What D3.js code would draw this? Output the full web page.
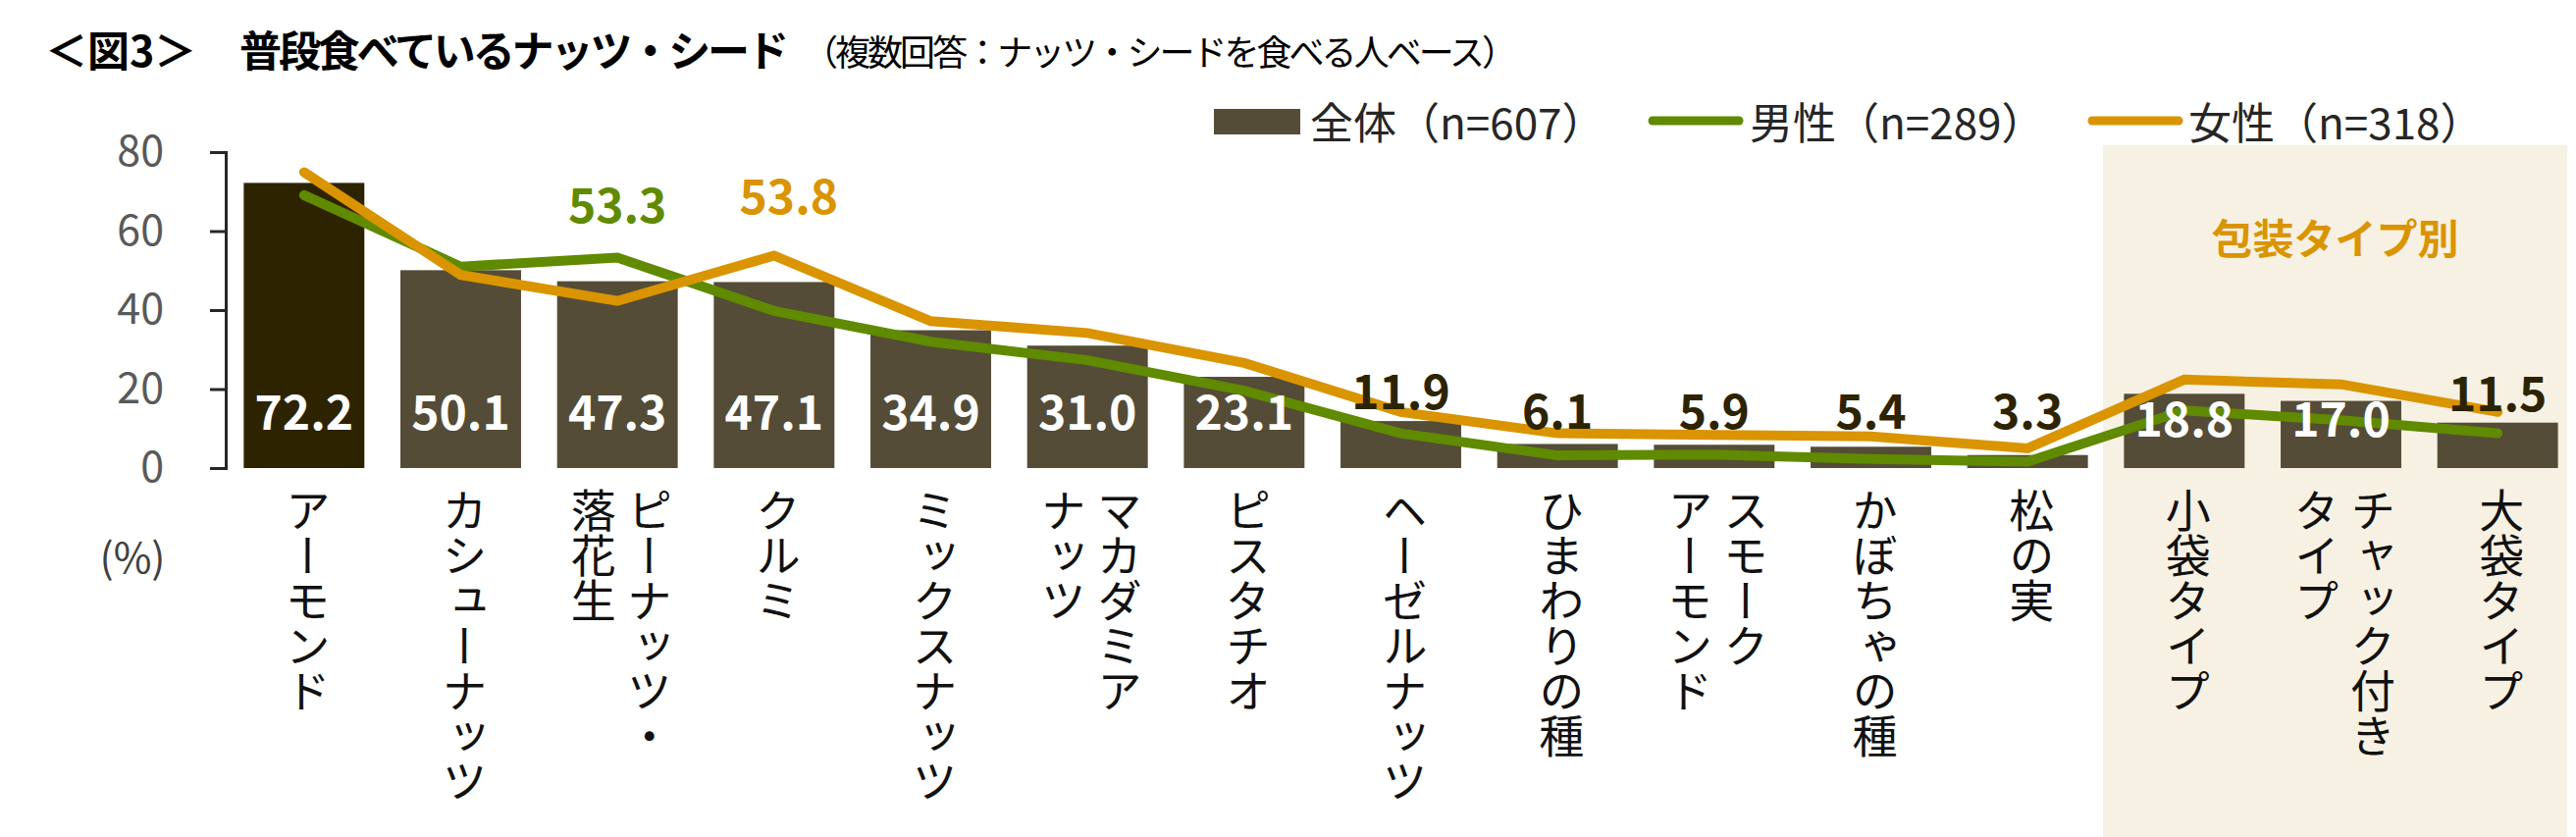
<!DOCTYPE html>
<html>
<head>
<meta charset="utf-8">
<script src="https://cdn.jsdelivr.net/npm/d3@7"></script>
<style>
  html, body { margin: 0; padding: 0; background: #fff; }
  svg text { font-family: "Noto Sans CJK JP", "Noto Sans", sans-serif; }
</style>
</head>
<body>
<div id="chart"></div>
<script>
// chart data
var categories = ["アーモンド", "カシューナッツ", "ピーナッツ・\n落花生", "クルミ", "ミックスナッツ",
  "マカダミア\nナッツ", "ピスタチオ", "ヘーゼルナッツ", "ひまわりの種", "スモーク\nアーモンド",
  "かぼちゃの種", "松の実", "小袋タイプ", "チャック付き\nタイプ", "大袋タイプ"];
var totalValues = [72.2, 50.1, 47.3, 47.1, 34.9, 31.0, 23.1, 11.9, 6.1, 5.9, 5.4, 3.3, 18.8, 17.0, 11.5];
var maleValues = [69.1, 51.0, 53.3, 39.8, 32.0, 27.3, 19.6, 8.8, 3.2, 3.4, 2.3, 1.6, 14.6, 12.1, 8.8];
var femaleValues = [74.9, 48.9, 42.3, 53.8, 37.2, 34.2, 26.6, 14.2, 8.8, 8.4, 8.0, 5.0, 22.4, 21.2, 14.2];
var yTicks = [0, 20, 40, 60, 80];
var seriesNames = ["全体（n=607）", "男性（n=289）", "女性（n=318）"];
var packagingCats = ["小袋タイプ", "チャック付き\nタイプ", "大袋タイプ"];
var maleCalloutCat = "ピーナッツ・\n落花生";
var femaleCalloutCat = "クルミ";

var width = 2625;
var height = 853;

var colTotal = "#544C36";
var colTotalFirst = "#2D2300";
var colMale = "#608A00";
var colFemale = "#D99400";
var colText = "#262626";

var svg = d3.select("#chart")
  .append("svg")
  .attr("width", width)
  .attr("height", height);

// Set the ranges
var x = d3.scaleBand()
  .domain(categories)
  .range([230, width])
  .paddingInner(0.23)
  .paddingOuter(0.115);

var y = d3.scaleLinear()
  .domain([0, 80])
  .range([477, 155]);

var cx = function(c) { return x(c) + x.bandwidth() / 2; };

// Shaded area for the packaging types
var boxX = x(packagingCats[0]) - x.step() * x.paddingInner() / 2 - 3;
svg.append("rect")
  .attr("x", boxX)
  .attr("y", 148)
  .attr("width", width - 9 - boxX)
  .attr("height", height - 148)
  .attr("fill", "#F7F1E3");

svg.append("text")
  .attr("x", boxX + (width - 9 - boxX) / 2)
  .attr("y", 240)
  .attr("text-anchor", "middle")
  .attr("dominant-baseline", "central")
  .attr("font-size", 42)
  .attr("font-weight", "bold")
  .attr("fill", colFemale)
  .text("包装タイプ別");

// Title
svg.append("text")
  .attr("x", 46)
  .attr("y", 49)
  .attr("dominant-baseline", "central")
  .attr("font-size", 43)
  .attr("font-weight", "bold")
  .attr("fill", "#000")
  .text("＜図3＞");

svg.append("text")
  .attr("x", 244)
  .attr("y", 49)
  .attr("dominant-baseline", "central")
  .attr("font-size", 43)
  .attr("font-weight", "bold")
  .attr("fill", "#000")
  .attr("textLength", 560)
  .attr("lengthAdjust", "spacing")
  .text("普段食べているナッツ・シード");

svg.append("text")
  .attr("x", 818)
  .attr("y", 51)
  .attr("dominant-baseline", "central")
  .attr("font-size", 36)
  .attr("fill", "#000")
  .attr("textLength", 728)
  .attr("lengthAdjust", "spacing")
  .text("（複数回答：ナッツ・シードを食べる人ベース）");

// Y axis
var yAxis = d3.axisLeft(y)
  .tickValues(yTicks)
  .tickSize(16)
  .tickPadding(47);

var gy = svg.append("g")
  .attr("class", "y axis")
  .attr("transform", "translate(230,0)")
  .call(yAxis);

gy.select(".domain").attr("stroke", colText).attr("stroke-width", 3);
gy.selectAll(".tick line").attr("stroke", colText).attr("stroke-width", 3);
gy.selectAll(".tick text")
  .attr("font-family", "Noto Sans CJK JP")
  .attr("font-size", 43)
  .attr("fill", "#595959");

svg.append("text")
  .attr("x", 135)
  .attr("y", 565)
  .attr("text-anchor", "middle")
  .attr("dominant-baseline", "central")
  .attr("font-size", 42)
  .attr("fill", "#404040")
  .text("(%)");

// Bars
svg.selectAll("rect.bar")
  .data(totalValues)
  .enter()
  .append("rect")
  .attr("class", "bar")
  .attr("x", (d, i) => x(categories[i]))
  .attr("y", d => y(d))
  .attr("width", x.bandwidth())
  .attr("height", d => y(0) - y(d))
  .attr("fill", (d, i) => i === 0 ? colTotalFirst : colTotal);

// Lines
var valueline = d3.line()
  .x((d, i) => cx(categories[i]))
  .y(d => y(d));

svg.append("path")
  .attr("d", valueline(maleValues))
  .attr("fill", "none")
  .attr("stroke", colMale)
  .attr("stroke-width", 10)
  .attr("stroke-linecap", "round")
  .attr("stroke-linejoin", "miter");

svg.append("path")
  .attr("d", valueline(femaleValues))
  .attr("fill", "none")
  .attr("stroke", colFemale)
  .attr("stroke-width", 10)
  .attr("stroke-linecap", "round")
  .attr("stroke-linejoin", "miter");

// Value labels of the bars
svg.selectAll("text.val")
  .data(totalValues)
  .enter()
  .append("text")
  .attr("class", "val")
  .attr("x", (d, i) => cx(categories[i]))
  .attr("y", d => d >= 15 ? Math.max(438, Math.min(445, y(d) + 44)) : Math.min(y(d) - 12, 437))
  .attr("text-anchor", "middle")
  .attr("font-size", 48)
  .attr("font-weight", "bold")
  .attr("fill", d => d >= 15 ? "#fff" : colTotalFirst)
  .text(d => d.toFixed(1));

// Callouts for the lines
var mi = categories.indexOf(maleCalloutCat);
svg.append("text")
  .attr("x", cx(maleCalloutCat))
  .attr("y", y(maleValues[mi]) - 35)
  .attr("text-anchor", "middle")
  .attr("font-size", 48)
  .attr("font-weight", "bold")
  .attr("fill", colMale)
  .text(maleValues[mi].toFixed(1));

var fi = categories.indexOf(femaleCalloutCat);
svg.append("text")
  .attr("x", cx(femaleCalloutCat) + 15)
  .attr("y", y(femaleValues[fi]) - 42)
  .attr("text-anchor", "middle")
  .attr("font-size", 48)
  .attr("font-weight", "bold")
  .attr("fill", colFemale)
  .text(femaleValues[fi].toFixed(1));

// Category labels, written vertically
var lineGap = 57;
categories.forEach(function(c) {
  var lines = c.split("\n");
  lines.forEach(function(t, j) {
    svg.append("text")
      .attr("x", cx(c) + 4 + (lines.length - 1) / 2 * lineGap - j * lineGap)
      .attr("y", 497)
      .attr("font-size", 46)
      .attr("fill", "#111")
      .style("writing-mode", "vertical-rl")
      .text(t);
  });
});

// Legend
var lg = svg.append("g").attr("class", "legend");
lg.append("rect")
  .attr("x", 1237).attr("y", 111)
  .attr("width", 88).attr("height", 26)
  .attr("fill", colTotal);
lg.append("line")
  .attr("x1", 1684).attr("x2", 1772)
  .attr("y1", 123).attr("y2", 123)
  .attr("stroke", colMale).attr("stroke-width", 9)
  .attr("stroke-linecap", "round");
lg.append("line")
  .attr("x1", 2132).attr("x2", 2220)
  .attr("y1", 123).attr("y2", 123)
  .attr("stroke", colFemale).attr("stroke-width", 9)
  .attr("stroke-linecap", "round");
[1335, 1783, 2230].forEach(function(px, i) {
  lg.append("text")
    .attr("x", px)
    .attr("y", 123)
    .attr("dominant-baseline", "central")
    .attr("font-size", 44)
    .attr("fill", colText)
    .text(seriesNames[i]);
});
</script>
</body>
</html>
